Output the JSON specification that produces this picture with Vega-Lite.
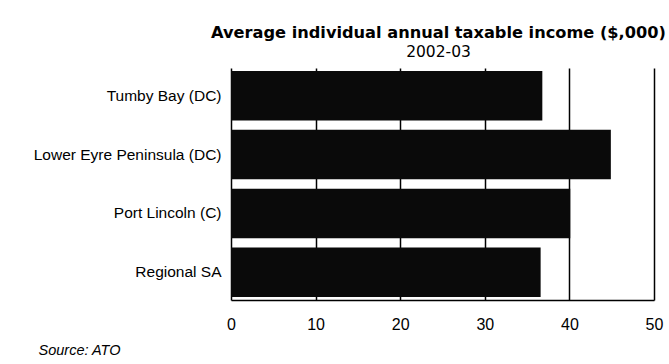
{
  "$schema": "https://vega.github.io/schema/vega-lite/v6.json",
  "width": 423,
  "height": 232,
  "autosize": {"type": "none"},
  "padding": {"left": 231, "top": 68, "right": 15, "bottom": 64},
  "background": "white",
  "config": {
    "font": "Liberation Sans",
    "view": {"stroke": null}
  },
  "title": {
    "text": "Average individual annual taxable income ($,000)",
    "subtitle": "2002-03",
    "font": "DejaVu Sans",
    "fontSize": 16.2,
    "fontWeight": "bold",
    "color": "black",
    "subtitleFont": "DejaVu Sans",
    "subtitleFontSize": 15.5,
    "subtitleColor": "black",
    "subtitlePadding": 3,
    "anchor": "middle",
    "offset": 8,
    "dx": -4
  },
  "data": {
    "values": [
      {"region": "Tumby Bay (DC)", "income": 36.8},
      {"region": "Lower Eyre Peninsula (DC)", "income": 44.9},
      {"region": "Port Lincoln (C)", "income": 40.1},
      {"region": "Regional  SA", "income": 36.6}
    ]
  },
  "mark": {"type": "bar", "color": "#0a0a0a"},
  "encoding": {
    "y": {
      "field": "region",
      "type": "nominal",
      "sort": null,
      "scale": {"paddingInner": 0.16, "paddingOuter": 0.05},
      "axis": {
        "title": null,
        "domain": false,
        "ticks": false,
        "labelFont": "Liberation Sans",
        "labelFontSize": 15.5,
        "labelColor": "black",
        "labelPadding": 10,
        "labelLimit": 260
      }
    },
    "x": {
      "field": "income",
      "type": "quantitative",
      "scale": {"domain": [0, 50], "nice": false},
      "axis": {
        "values": [0, 10, 20, 30, 40, 50],
        "grid": true,
        "gridColor": "black",
        "gridWidth": 1.5,
        "gridOpacity": 1,
        "domain": true,
        "domainColor": "black",
        "domainWidth": 1.5,
        "ticks": false,
        "labelFlush": false,
        "labelFont": "Liberation Sans",
        "labelFontSize": 16,
        "labelColor": "black",
        "labelPadding": 16,
        "title": "Source: ATO",
        "titleFont": "Liberation Sans",
        "titleFontStyle": "italic",
        "titleFontWeight": "normal",
        "titleFontSize": 14.5,
        "titleColor": "black",
        "titleAnchor": "start",
        "titleAlign": "left",
        "titleBaseline": "alphabetic",
        "titleX": -193,
        "titleY": 54
      }
    }
  }
}
